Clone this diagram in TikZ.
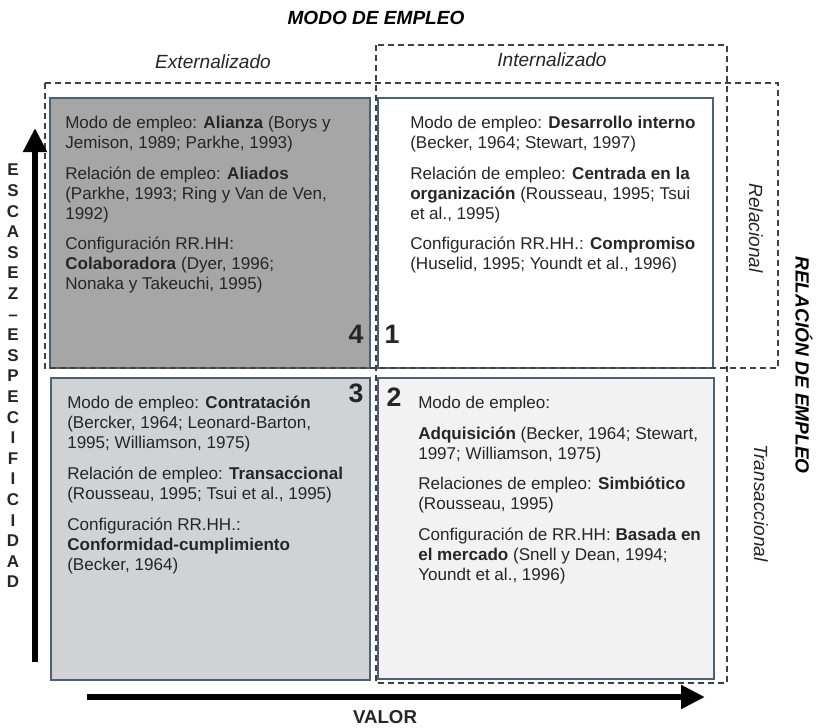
\documentclass[tikz,border=0pt]{standalone}
\usepackage{fontspec}
\setmainfont{Liberation Sans}
\usetikzlibrary{arrows.meta}
\definecolor{boxline}{RGB}{74,97,120}
\definecolor{darkfill}{RGB}{166,166,166}
\definecolor{midfill}{RGB}{208,210,212}
\definecolor{lightfill}{RGB}{242,242,242}
\definecolor{txt}{RGB}{38,38,38}
\definecolor{dashcol}{RGB}{64,64,64}

\tikzset{
  quad/.style={draw=boxline, line width=0.9pt},
  zone/.style={draw=dashcol, line width=1pt, dash pattern=on 4.5pt off 3pt},
  qtext/.style={anchor=north west, align=left, inner sep=0pt, text=txt, font=\fontsize{12.8}{15}\selectfont},
  qnum/.style={inner sep=0pt, text=txt, font=\fontsize{20}{24}\selectfont\bfseries},
  axis/.style={line width=5.2pt, -{Triangle[length=18pt,width=17pt]}},
  lab/.style={inner sep=0pt, text=txt, font=\fontsize{14.3}{17}\selectfont\itshape},
  blab/.style={inner sep=0pt, text=black, font=\fontsize{14.3}{17}\selectfont\bfseries\itshape},
  vlet/.style={inner sep=0pt, align=center, text=txt, font=\fontsize{12.75}{15.45}\selectfont\bfseries}
}

\begin{document}
\begin{tikzpicture}[x=0.75pt,y=-0.75pt]
\useasboundingbox (0,0) rectangle (819,728);

% quadrants
\path[quad,fill=darkfill] (50,98) rectangle (370,368);
\path[quad,fill=white] (378,98) rectangle (713,368);
\path[quad,fill=midfill] (51,378) rectangle (370,680);
\path[quad,fill=lightfill] (378,378) rectangle (714,679);

% dashed zones
\draw[zone] (376,45) rectangle (727,683);
\draw[zone] (45,83) rectangle (778,368);

\node[qtext] (alianza) at (65,116) {Modo de empleo: \textbf{Alianza} (Borys y\\
Jemison, 1989; Parkhe, 1993)\\[8pt]
Relación de empleo: \textbf{Aliados}\\
(Parkhe, 1993; Ring y Van de Ven,\\
1992)\\[8pt]
Configuración RR.HH:\\
\textbf{Colaboradora} (Dyer, 1996;\\
Nonaka y Takeuchi, 1995)};

\node[qtext] (desarrollo) at (410,116) {Modo de empleo: \textbf{Desarrollo interno}\\
(Becker, 1964; Stewart, 1997)\\[8pt]
Relación de empleo: \textbf{Centrada en la}\\
\textbf{organización} (Rousseau, 1995; Tsui\\
et al., 1995)\\[8pt]
Configuración RR.HH.: \textbf{Compromiso}\\
(Huselid, 1995; Youndt et al., 1996)};

\node[qtext] (contratacion) at (67,396) {Modo de empleo: \textbf{Contratación}\\
(Bercker, 1964; Leonard-Barton,\\
1995; Williamson, 1975)\\[8pt]
Relación de empleo: \textbf{Transaccional}\\
(Rousseau, 1995; Tsui et al., 1995)\\[8pt]
Configuración RR.HH.:\\
\textbf{Conformidad-cumplimiento}\\
(Becker, 1964)};

\node[qtext] (adquisicion) at (418,396) {Modo de empleo:\\[8pt]
\textbf{Adquisición} (Becker, 1964; Stewart,\\
1997; Williamson, 1975)\\[8pt]
Relaciones de empleo: \textbf{Simbiótico}\\
(Rousseau, 1995)\\[8pt]
Configuración de RR.HH: \textbf{Basada en}\\
\textbf{el mercado} (Snell y Dean, 1994;\\
Youndt et al., 1996)};

\node[qnum] (n4) at (356,334) {4};
\node[qnum] (n1) at (392,334) {1};
\node[qnum] (n3) at (356,393) {3};
\node[qnum] (n2) at (394,397) {2};

% labels
\node[blab] (modo) at (376,18) {MODO DE EMPLEO};
\node[lab] (ext) at (213,62) {Externalizado};
\node[lab] (int) at (552,60) {Internalizado};
\node[lab,rotate=-90] (rel) at (756,228) {Relacional};
\node[lab,rotate=-90] (tra) at (761,503) {Transaccional};
\node[blab,rotate=-90] (relemp) at (804,365) {RELACIÓN DE EMPLEO};
\node[inner sep=0pt,font=\fontsize{14}{17}\selectfont\bfseries,text=txt] (valor) at (385,717) {VALOR};
\node[vlet] (escasez) at (13,376) {E\\S\\C\\A\\S\\E\\Z\\–\\E\\S\\P\\E\\C\\I\\F\\I\\C\\I\\D\\A\\D};

% axes
\coordinate (vtail) at (35,662);
\coordinate (vhead) at (35,128);
\coordinate (htail) at (87,697);
\coordinate (hhead) at (705,697);
\draw[axis] (vtail) -- (vhead);
\draw[axis] (htail) -- (hhead);
\end{tikzpicture}
\end{document}
